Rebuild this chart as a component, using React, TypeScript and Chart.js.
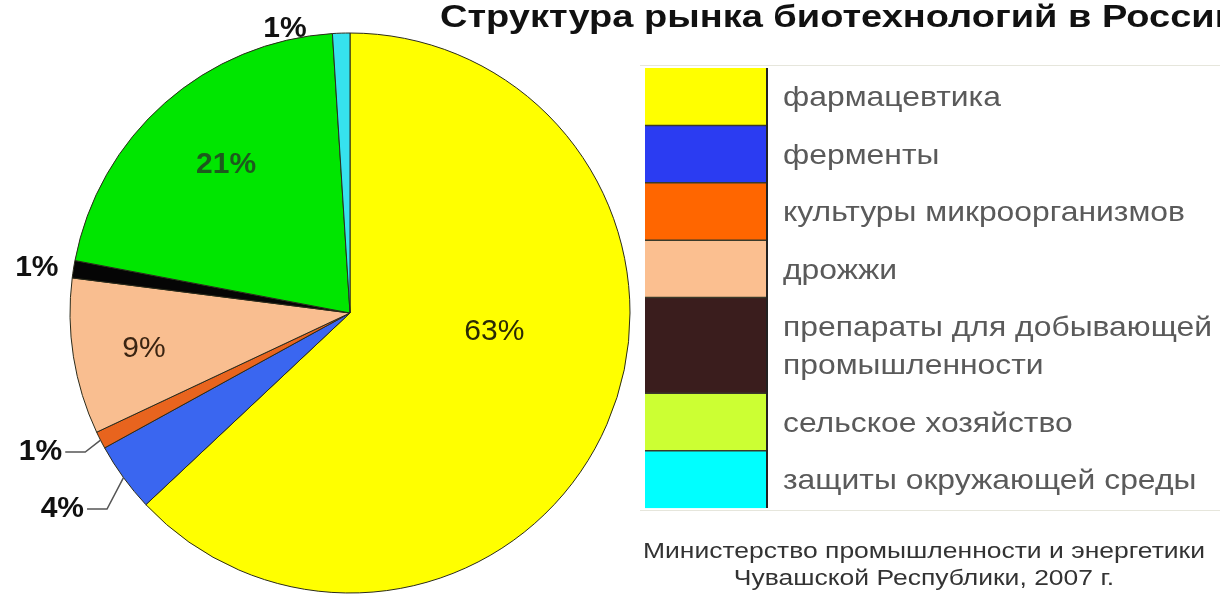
import React, { useEffect, useRef } from "react";
import { Chart, registerables } from "chart.js";

Chart.register(...registerables);

const title = "Структура рынка биотехнологий в России";
const categories = [
  "фармацевтика",
  "ферменты",
  "культуры микроорганизмов",
  "дрожжи",
  "препараты для добывающей промышленности",
  "сельское хозяйство",
  "защиты окружающей среды",
];
const legendLines = [
  ["фармацевтика"],
  ["ферменты"],
  ["культуры микроорганизмов"],
  ["дрожжи"],
  ["препараты для добывающей", "промышленности"],
  ["сельское хозяйство"],
  ["защиты окружающей среды"],
];
const shares = [63, 4, 1, 9, 1, 21, 1];
const valueLabels = ["63%", "4%", "1%", "9%", "1%", "21%", "1%"];
const sliceColors = ["#ffff00", "#3a66f0", "#e8641e", "#f9be90", "#050505", "#00e600", "#36e2ee"];
const legendColors = ["#ffff00", "#2b3cf2", "#ff6600", "#fbbf90", "#3a1d1d", "#ccff33", "#00ffff"];
const sourceLines = ["Министерство промышленности и энергетики", "Чувашской Республики, 2007 г."];

// label placement style (angle shift in degrees, radius factor), leader lines for small slices
const labelStyle: any[] = [
  { shift: -15.9, k: 0.52, bold: false, color: "#2a2a05" },
  { leader: { shift: -2.9, k: 1.115 }, bold: true, color: "#111" },
  { leader: { shift: -0.7, k: 1.068 }, bold: true, color: "#111" },
  { shift: -0.9, k: 0.747, bold: false, color: "#3a2412" },
  { shift: -0.8, k: 1.13, bold: true, color: "#111" },
  { shift: 1.5, k: 0.69, bold: true, color: "#1d5a1d" },
  { shift: -11.1, k: 1.04, bold: true, color: "#111" },
];

const FONT = "'Liberation Sans', Arial, Helvetica, sans-serif";

function drawScaled(ctx: CanvasRenderingContext2D, text: string, x: number, y: number, sx: number, align: CanvasTextAlign) {
  ctx.save();
  ctx.translate(x, y);
  ctx.scale(sx, 1);
  ctx.textAlign = align;
  ctx.fillText(text, 0, 0);
  ctx.restore();
}

const decorPlugin = {
  id: "decor",
  afterDatasetsDraw(chart: any) {
    const ctx: CanvasRenderingContext2D = chart.ctx;
    const meta = chart.getDatasetMeta(0);
    ctx.save();
    ctx.textBaseline = "middle";
    meta.data.forEach((arc: any, i: number) => {
      const p = arc.getProps(["x", "y", "startAngle", "endAngle", "outerRadius"], true);
      const mid = (p.startAngle + p.endAngle) / 2;
      const st = labelStyle[i];
      ctx.font = `${st.bold ? "bold " : ""}30px ${FONT}`;
      ctx.fillStyle = st.color;
      if (st.leader) {
        const sx0 = p.x + p.outerRadius * Math.cos(mid);
        const sy0 = p.y + p.outerRadius * Math.sin(mid);
        const la = mid + (st.leader.shift * Math.PI) / 180;
        const ex = p.x + p.outerRadius * st.leader.k * Math.cos(la);
        const ey = p.y + p.outerRadius * st.leader.k * Math.sin(la);
        ctx.strokeStyle = "#555";
        ctx.lineWidth = 1.5;
        ctx.beginPath();
        ctx.moveTo(sx0, sy0);
        ctx.lineTo(ex, ey);
        ctx.lineTo(ex - 20, ey);
        ctx.stroke();
        drawScaled(ctx, valueLabels[i], ex - 23, ey, 1, "right");
      } else {
        const a = mid + (st.shift * Math.PI) / 180;
        const r = p.outerRadius * st.k;
        drawScaled(ctx, valueLabels[i], p.x + r * Math.cos(a), p.y + r * Math.sin(a), 1, "center");
      }
    });

    // title
    ctx.fillStyle = "#111";
    ctx.font = `bold 32px ${FONT}`;
    ctx.textBaseline = "alphabetic";
    const tsx = 798 / ctx.measureText(title).width;
    drawScaled(ctx, title, 440, 27, tsx, "left");

    // legend
    const left = 645, boxRight = 766, top = 68, unit = 57.4;
    ctx.strokeStyle = "#e6e6dc";
    ctx.lineWidth = 1;
    ctx.beginPath();
    ctx.moveTo(640, 65.5);
    ctx.lineTo(1220, 65.5);
    ctx.moveTo(640, 510.5);
    ctx.lineTo(1220, 510.5);
    ctx.stroke();
    ctx.font = `28px ${FONT}`;
    const lsx = 402 / ctx.measureText("культуры микроорганизмов").width;
    let y = top;
    legendLines.forEach((lines, i) => {
      const h = unit * (lines.length === 2 ? 1.667 : 1);
      ctx.fillStyle = legendColors[i];
      ctx.fillRect(left, y, boxRight - left, h);
      if (i > 0) {
        ctx.strokeStyle = "#3a3a2a";
        ctx.lineWidth = 1.5;
        ctx.beginPath();
        ctx.moveTo(left, y);
        ctx.lineTo(boxRight, y);
        ctx.stroke();
      }
      ctx.fillStyle = "#5a5a5a";
      ctx.textBaseline = "middle";
      const cy = y + h / 2 + 2;
      if (lines.length === 1) {
        drawScaled(ctx, lines[0], 783, cy, lsx, "left");
      } else {
        drawScaled(ctx, lines[0], 783, cy - 19, lsx, "left");
        drawScaled(ctx, lines[1], 783, cy + 19, lsx, "left");
      }
      y += h;
    });
    ctx.strokeStyle = "#222";
    ctx.lineWidth = 2;
    ctx.beginPath();
    ctx.moveTo(boxRight + 1, top);
    ctx.lineTo(boxRight + 1, y);
    ctx.stroke();

    // source
    ctx.fillStyle = "#333";
    ctx.font = `22px ${FONT}`;
    ctx.textBaseline = "middle";
    const ssx = 562 / ctx.measureText(sourceLines[0]).width;
    drawScaled(ctx, sourceLines[0], 924, 552, ssx, "center");
    drawScaled(ctx, sourceLines[1], 924, 579, ssx, "center");
    ctx.restore();
  },
};

export default function App() {
  const ref = useRef<HTMLCanvasElement | null>(null);
  useEffect(() => {
    if (!ref.current) return;
    const chart = new Chart(ref.current, {
      type: "pie",
      data: {
        labels: categories,
        datasets: [
          {
            data: shares,
            backgroundColor: sliceColors,
            borderColor: "#2a2a1a",
            borderWidth: 1,
          },
        ],
      },
      options: {
        responsive: false,
        animation: false,
        radius: 280,
        layout: { padding: { left: 0, right: 520, top: 33, bottom: 2 } },
        plugins: {
          legend: { display: false },
          tooltip: { enabled: false },
          title: { display: false },
        },
      } as any,
      plugins: [decorPlugin],
    });
    return () => chart.destroy();
  }, []);
  return (
    <div style={{ position: "fixed", left: 0, top: 0, width: 1220, height: 595, background: "#fff" }}>
      <canvas ref={ref} width={1220} height={595} style={{ display: "block" }} />
    </div>
  );
}
